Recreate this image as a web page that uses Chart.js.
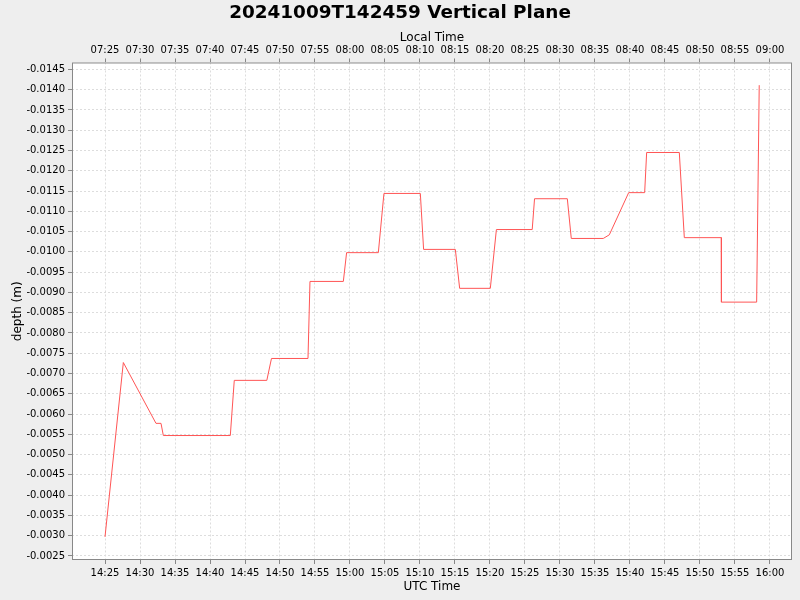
<!DOCTYPE html>
<html>
<head>
<meta charset="utf-8">
<title>Vertical Plane</title>
<script src="https://cdn.jsdelivr.net/npm/chart.js@4.4.1/dist/chart.umd.min.js"></script>
<style>
  html, body { margin: 0; padding: 0; background: #eeeeee; }
  #wrap { width: 800px; height: 600px; }
</style>
</head>
<body>
<div id="wrap"><canvas id="depthChart" width="800" height="600"></canvas></div>
<script>
// UTC sample times and depth readings (m)
const utcTimes = [
  '14:25:00', '14:27:37', '14:32:17', '14:33:00', '14:33:20', '14:42:54',
  '14:43:28', '14:48:07', '14:48:47', '14:54:00', '14:54:17', '14:59:03',
  '14:59:31', '15:04:03', '15:04:51', '15:10:03', '15:10:31', '15:15:03',
  '15:15:40', '15:20:03', '15:20:55', '15:26:02', '15:26:22', '15:31:03',
  '15:31:37', '15:36:11', '15:37:03', '15:39:49', '15:42:06', '15:42:23',
  '15:47:03', '15:47:46', '15:53:03', '15:53:04', '15:58:06', '15:58:28'
];
const depths = [
  -0.00297, -0.00727, -0.00577, -0.00577, -0.00547, -0.00547,
  -0.00683, -0.00683, -0.00737, -0.00737, -0.00927, -0.00927,
  -0.00998, -0.00998, -0.01144, -0.01144, -0.01006, -0.01006,
  -0.00910, -0.00910, -0.01055, -0.01055, -0.01131, -0.01131,
  -0.01033, -0.01033, -0.01042, -0.01146, -0.01146, -0.01245,
  -0.01245, -0.01035, -0.01035, -0.00876, -0.00876, -0.01411
];

const localOffsetMin = -7 * 60;   // local time = UTC - 7h
const xRange = ['14:20:17', '16:03:09'];
const yRange = [-0.01467, -0.00240];

function toMinutes(s) {
  const p = s.split(':').map(Number);
  return p[0] * 60 + p[1] + p[2] / 60;
}
function hhmm(v) {
  let t = Math.round(v);
  t = ((t % 1440) + 1440) % 1440;
  const h = Math.floor(t / 60), m = t % 60;
  return String(h).padStart(2, '0') + ':' + String(m).padStart(2, '0');
}

const FONT = 'DejaVu Sans';
const points = utcTimes.map((t, i) => ({ x: toMinutes(t), y: depths[i] }));

// white plot area on grey background, plus frame
const plotFrame = {
  id: 'plotFrame',
  beforeDraw(chart) {
    const { ctx, chartArea: a } = chart;
    ctx.save();
    ctx.fillStyle = '#eeeeee';
    ctx.fillRect(0, 0, chart.width, chart.height);
    ctx.fillStyle = '#ffffff';
    ctx.fillRect(a.left, a.top, a.right - a.left, a.bottom - a.top);
    ctx.restore();
  },
  afterDraw(chart) {
    const { ctx, chartArea: a } = chart;
    ctx.save();
    ctx.strokeStyle = '#888888';
    ctx.lineWidth = 1;
    ctx.strokeRect(a.left + 0.5, a.top + 0.5, a.right - a.left - 1, a.bottom - a.top - 1);
    ctx.restore();
  }
};

const gridStyle = {
  color: '#dddddd',
  tickColor: '#888888',
  tickLength: 4,
  tickBorderDash: []
};
const borderStyle = { display: false, dash: [2, 2] };

const ctx = document.getElementById('depthChart').getContext('2d');
const depthChart = new Chart(ctx, {
  type: 'line',
  data: {
    datasets: [{
      label: 'depth',
      data: points,
      xAxisID: 'x',
      yAxisID: 'y',
      borderColor: '#ff5555',
      borderWidth: 1,
      pointRadius: 0,
      tension: 0,
      fill: false
    }]
  },
  options: {
    responsive: false,
    animation: false,
    devicePixelRatio: 1,
    layout: { padding: 0 },
    plugins: {
      legend: { display: false },
      tooltip: { enabled: false },
      title: {
        display: true,
        text: '20241009T142459 Vertical Plane',
        color: '#000000',
        font: { family: FONT, size: 18.4, weight: 'bold' },
        padding: { top: 2, bottom: 0 }
      }
    },
    scales: {
      x: {
        type: 'linear',
        position: 'bottom',
        min: toMinutes(xRange[0]),
        max: toMinutes(xRange[1]),
        afterFit(scale) { scale.height = 40; },
        border: borderStyle,
        grid: gridStyle,
        ticks: {
          stepSize: 5,
          includeBounds: false,
          autoSkip: false,
          maxRotation: 0,
          padding: 3,
          color: '#000000',
          font: { family: FONT, size: 10 },
          callback: v => hhmm(v)
        },
        title: {
          display: true,
          text: 'UTC Time',
          color: '#000000',
          font: { family: FONT, size: 12 },
          padding: { top: 0, bottom: 6 }
        }
      },
      x2: {
        type: 'linear',
        position: 'top',
        display: true,
        min: toMinutes(xRange[0]),
        max: toMinutes(xRange[1]),
        afterFit(scale) { scale.height = 38.4; },
        border: borderStyle,
        grid: Object.assign({}, gridStyle, { drawOnChartArea: false }),
        ticks: {
          stepSize: 5,
          includeBounds: false,
          autoSkip: false,
          maxRotation: 0,
          padding: 2,
          color: '#000000',
          font: { family: FONT, size: 10 },
          callback: v => hhmm(v + localOffsetMin)
        },
        title: {
          display: true,
          text: 'Local Time',
          color: '#000000',
          font: { family: FONT, size: 12 },
          padding: { top: 7, bottom: 0 }
        }
      },
      y: {
        type: 'linear',
        position: 'left',
        reverse: true,
        min: yRange[0],
        max: yRange[1],
        afterFit(scale) { scale.width = 72; },
        border: borderStyle,
        grid: gridStyle,
        ticks: {
          stepSize: 0.0005,
          includeBounds: false,
          autoSkip: false,
          padding: 3,
          color: '#000000',
          font: { family: FONT, size: 10 },
          callback: v => v.toFixed(4)
        },
        title: {
          display: true,
          text: 'depth (m)',
          color: '#000000',
          font: { family: FONT, size: 12 },
          padding: { top: 11, bottom: 0 }
        }
      },
      // empty strip on the right so the plot ends 8px from the edge
      yRight: {
        type: 'linear',
        position: 'right',
        display: true,
        afterFit(scale) { scale.width = 8; },
        border: { display: false },
        grid: { display: false },
        ticks: { display: false },
        title: { display: false }
      }
    }
  },
  plugins: [plotFrame]
});
</script>
</body>
</html>
